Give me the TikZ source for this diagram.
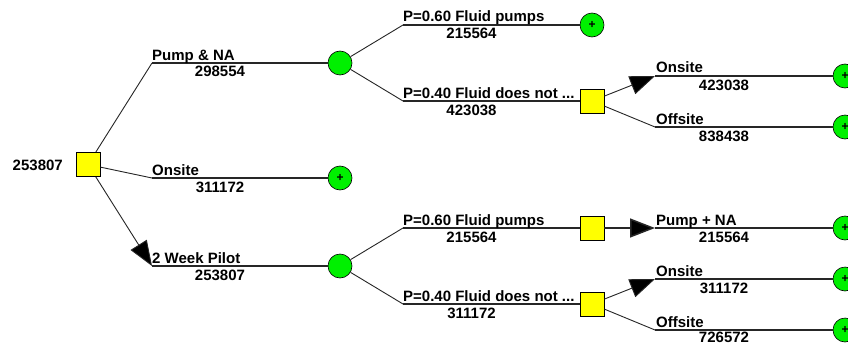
\documentclass[tikz,border=0pt]{standalone}
\usepackage{fontspec}
\setmainfont{Liberation Sans}
\usetikzlibrary{arrows.meta}
\definecolor{dyel}{RGB}{255,255,0}
\definecolor{cgrn}{RGB}{0,240,0}
\tikzset{
  decbox/.style={draw=black, line width=0.8pt, fill=dyel, minimum size=24pt, inner sep=0pt},
  chance/.style={circle, draw=black, line width=0.6pt, fill=cgrn, minimum size=24pt, inner sep=0pt},
  term/.style={circle, draw=black, line width=0.6pt, fill=cgrn, minimum size=24pt, inner sep=0pt, font=\fontsize{12}{12}\selectfont\bfseries},
  lbl/.style={anchor=base west, inner sep=0pt, font=\fontsize{15}{18}\selectfont\bfseries},
  val/.style={anchor=base, inner sep=0pt, font=\fontsize{15}{18}\selectfont\bfseries},
  hline/.style={line width=1.5pt, black!85},
  dline/.style={line width=0.9pt, black!85},
  arr/.style={-{Triangle[length=25pt,width=19pt,fill=black]}}
}
\begin{document}
\begin{tikzpicture}[x=1pt,y=-1pt]
\useasboundingbox (0,0) rectangle (848,345);
\clip (0,0) rectangle (848,345);
\fill[white] (0,0) rectangle (848,345);

% root
\node[decbox] (root) at (88,164.5) {};
\node[anchor=base east, inner sep=0pt, font=\fontsize{15}{18}\selectfont\bfseries] (rootv) at (63,170) {253807};

% corners of first level
\coordinate (a1) at (152,63);
\coordinate (a2) at (152,178);
\coordinate (a3) at (152,266);

\node[chance] (c1) at (340,63) {};
\node[term] (t2) at (340,178) {+};
\node[chance] (c3) at (340,266) {};

\draw[dline] (root) -- (a1);
\draw[hline] (a1) -- (c1);
\draw[dline] (root) -- (a2);
\draw[hline] (a2) -- (t2);
\draw[dline, arr] (root) -- (a3);
\draw[hline] (a3) -- (c3);

\node[lbl] at (152,60) {Pump \& NA};
\node[val] at (220,77) {298554};
\node[lbl] at (152,175) {Onsite};
\node[val] at (220,192) {311172};
\node[lbl] at (152,263) {2 Week Pilot};
\node[val] at (220,280) {253807};

% second level, top
\coordinate (b1) at (403,25);
\coordinate (b2) at (403,101);
\node[term] (t3) at (592,25) {+};
\node[decbox] (d2) at (592,101) {};
\draw[dline] (c1) -- (b1);
\draw[hline] (b1) -- (t3);
\draw[dline] (c1) -- (b2);
\draw[hline] (b2) -- (d2);
\node[lbl] at (403,22) {P=0.60 Fluid pumps};
\node[val] at (471.5,39) {215564};
\node[lbl] at (403,98) {P=0.40 Fluid does not ...};
\node[val] at (471.5,115) {423038};

% second level, bottom
\coordinate (b3) at (403,228);
\coordinate (b4) at (403,304);
\node[decbox] (d3) at (592,228) {};
\node[decbox] (d4) at (592,304) {};
\draw[dline] (c3) -- (b3);
\draw[hline] (b3) -- (d3);
\draw[dline] (c3) -- (b4);
\draw[hline] (b4) -- (d4);
\node[lbl] at (403,225) {P=0.60 Fluid pumps};
\node[val] at (471.5,242) {215564};
\node[lbl] at (403,301) {P=0.40 Fluid does not ...};
\node[val] at (471.5,318) {311172};

% third level
\coordinate (e1) at (655,76);
\coordinate (e2) at (655,127);
\coordinate (e3) at (655,228);
\coordinate (e4) at (655,279);
\coordinate (e5) at (655,330);
\node[term] (u1) at (845,76) {+};
\node[term] (u2) at (845,127) {+};
\node[term] (u3) at (845,228) {+};
\node[term] (u4) at (845,279) {+};
\node[term] (u5) at (845,330) {+};

\draw[dline, arr] (d2) -- (e1);
\draw[hline] (e1) -- (u1);
\draw[dline] (d2) -- (e2);
\draw[hline] (e2) -- (u2);
\draw[hline, arr] (d3) -- (e3);
\draw[hline] (e3) -- (u3);
\draw[dline, arr] (d4) -- (e4);
\draw[hline] (e4) -- (u4);
\draw[dline] (d4) -- (e5);
\draw[hline] (e5) -- (u5);

\node[lbl] at (656,73) {Onsite};
\node[val] at (724,90) {423038};
\node[lbl] at (656,124) {Offsite};
\node[val] at (724,141) {838438};
\node[lbl] at (656,225) {Pump + NA};
\node[val] at (724,242) {215564};
\node[lbl] at (656,276) {Onsite};
\node[val] at (724,293) {311172};
\node[lbl] at (656,327) {Offsite};
\node[val] at (724,342) {726572};
\end{tikzpicture}
\end{document}
